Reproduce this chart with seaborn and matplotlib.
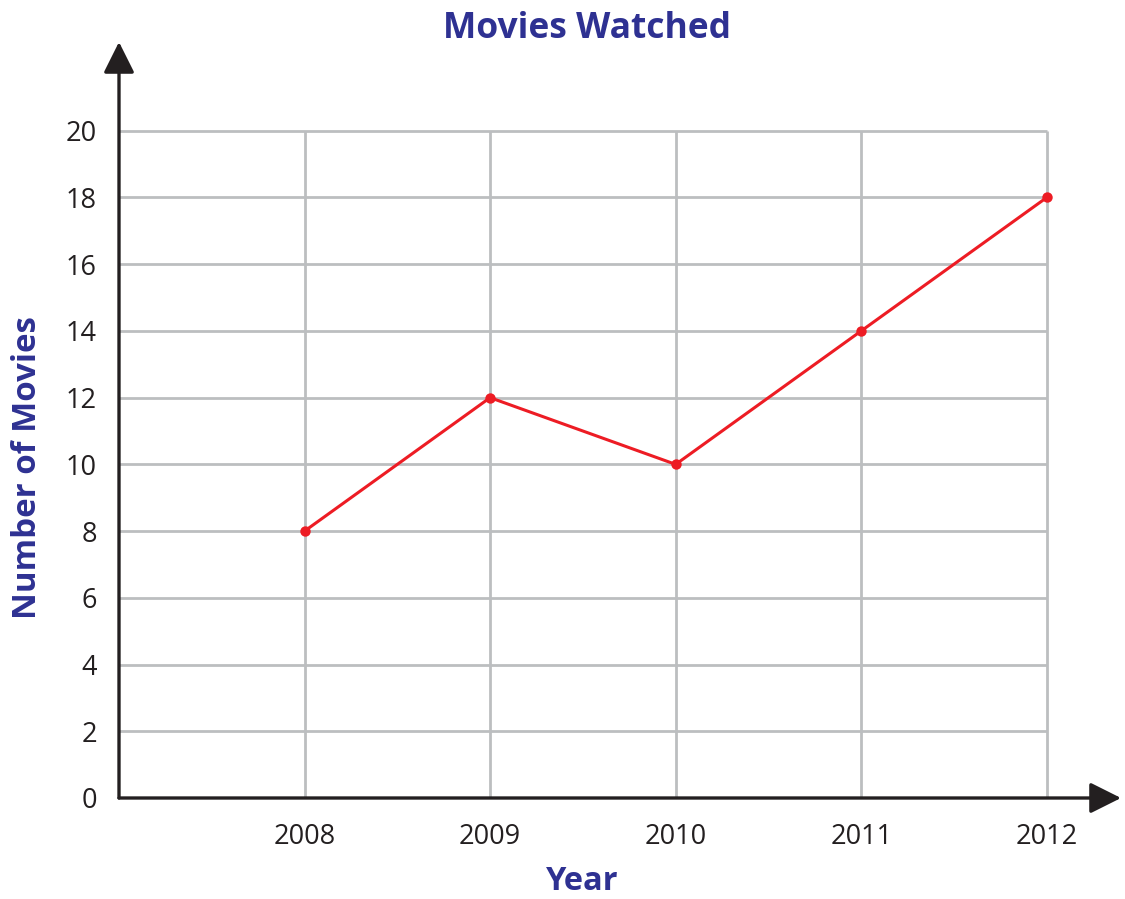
import matplotlib.pyplot as plt
import seaborn as sns
import pandas as pd

# Data
years = [2008, 2009, 2010, 2011, 2012]
movies = [8, 12, 10, 14, 18]
y_ticks = [0, 2, 4, 6, 8, 10, 12, 14, 16, 18, 20]

NAVY = "#2e3192"
RED = "#ed1c24"
GRID = "#bcbec0"
AXIS = "#231f20"

sns.set_style("white")
plt.rcParams["font.family"] = ["Open Sans", "DejaVu Sans"]

df = pd.DataFrame({"year": years, "movies": movies})

fig = plt.figure(figsize=(11.25, 8.99), dpi=100)
# axes: left edge on the y axis line, bottom on the x axis line
ax = fig.add_axes([119 / 1125, 101 / 899, 1002 / 1125, 756 / 899])

x0, x1 = 2007, 2012.4
y1 = 22.66
ax.set_xlim(x0, x1)
ax.set_ylim(0, y1)

# grid bounded at 2012 / 20
ax.hlines(y_ticks[1:], x0, years[-1], color=GRID, lw=2.0, zorder=1)
ax.vlines(years, 0, y_ticks[-1], color=GRID, lw=2.0, zorder=1)

sns.lineplot(data=df, x="year", y="movies", ax=ax, color=RED, lw=2.2,
             marker="o", markersize=7.5, markeredgewidth=0, zorder=3)

# axis arrows
arrow = dict(arrowstyle="-|>,head_length=1.9,head_width=0.95",
             color=AXIS, lw=2.4, shrinkA=0, shrinkB=0)
ax.annotate("", xy=(x1, 0), xytext=(x0, 0), arrowprops=arrow,
            annotation_clip=False, zorder=4)
ax.annotate("", xy=(x0, y1), xytext=(x0, 0), arrowprops=arrow,
            annotation_clip=False, zorder=4)

for s in ax.spines.values():
    s.set_visible(False)

ax.set_xticks(years)
ax.set_xticklabels([str(y) for y in years])
ax.set_yticks(y_ticks)
ax.tick_params(axis="both", length=0, labelsize=19.5, colors="#231f20")
ax.tick_params(axis="x", pad=18)
ax.tick_params(axis="y", pad=16)

ax.set_xlabel("")
ax.set_ylabel("")
fig.text(587 / 1125, 1 - 29 / 899, "Movies Watched", ha="center", va="center",
         fontsize=25.5, fontweight="bold", color=NAVY)
fig.text(582 / 1125, 1 - 882 / 899, "Year", ha="center", va="center",
         fontsize=23.5, fontweight="bold", color=NAVY)
fig.text(28 / 1125, 1 - 468 / 899, "Number of Movies", ha="center", va="center",
         rotation=90, fontsize=23.8, fontweight="bold", color=NAVY)

fig.savefig("out.png", dpi=100)
